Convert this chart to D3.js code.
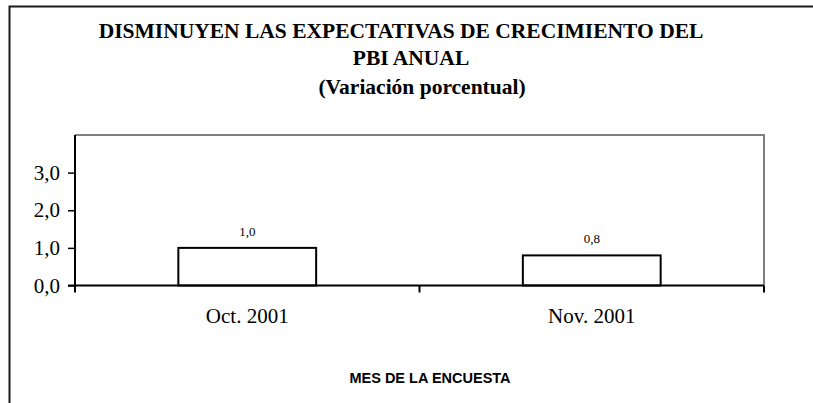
<!DOCTYPE html>
<html>
<head>
<meta charset="utf-8">
<script src="https://d3js.org/d3.v7.min.js"></script>
<style>
  body { margin: 0; background: #fff; }
  svg { display: block; }
</style>
</head>
<body>
<div id="chart"></div>
<script>
// data
var months = ["Oct. 2001", "Nov. 2001"]
var pbiVariation = [1.0, 0.8]
var yTicks = [0, 1, 2, 3]
var titleLines = ["DISMINUYEN LAS EXPECTATIVAS DE CRECIMIENTO DEL", "PBI ANUAL", "(Variación porcentual)"]
var xTitle = "MES DE LA ENCUESTA"

var W = 813, H = 403
var svg = d3.select("#chart").append("svg")
    .attr("width", W)
    .attr("height", H)

// outer frame (right and bottom edges fall outside the window)
svg.append("path")
    .attr("d", "M9.5," + H + " V6.5 H" + (W + 5))
    .attr("fill", "none")
    .attr("stroke", "#1a1a1a")
    .attr("stroke-width", 2)

var serif = "'Liberation Serif', 'Times New Roman', serif"

// title
var titleX = [401, 411, 422], titleY = [38, 65, 94]
svg.selectAll("text.title")
    .data(titleLines)
    .enter().append("text")
    .attr("class", "title")
    .attr("x", function(d, i) { return titleX[i] })
    .attr("y", function(d, i) { return titleY[i] })
    .attr("text-anchor", "middle")
    .style("font-family", serif)
    .style("font-weight", "bold")
    .style("font-size", "21.5px")
    .text(function(d) { return d })

var pLeft = 75, pRight = 764, pTop = 135, pBottom = 285.5

var x = d3.scaleBand().domain(months).range([pLeft, pRight]).paddingInner(0).paddingOuter(0)
var y = d3.scaleLinear().domain([0, 4]).range([pBottom, pTop])

// plot area border: grey top and right
svg.append("path")
    .attr("d", "M" + pLeft + "," + pTop + " H" + pRight + " V" + pBottom)
    .attr("fill", "none")
    .attr("stroke", "#808080")
    .attr("stroke-width", 2)

// bars, width = band / 2.5 (gap 150%)
var barW = x.bandwidth() / 2.5
svg.selectAll("rect.bar")
    .data(pbiVariation)
    .enter().append("rect")
    .attr("class", "bar")
    .attr("x", function(d, i) { return x(months[i]) + (x.bandwidth() - barW) / 2 })
    .attr("y", function(d) { return y(d) })
    .attr("width", barW)
    .attr("height", function(d) { return pBottom - y(d) })
    .attr("fill", "#fff")
    .attr("stroke", "#000")
    .attr("stroke-width", 2)

var fmt = function(d) { return d3.format(".1f")(d).replace(".", ",") }

// value labels
svg.selectAll("text.val")
    .data(pbiVariation)
    .enter().append("text")
    .attr("class", "val")
    .attr("x", function(d, i) { return x(months[i]) + x.bandwidth() / 2 })
    .attr("y", function(d) { return y(d) - 12 })
    .attr("text-anchor", "middle")
    .style("font-family", serif)
    .style("font-size", "13px")
    .text(fmt)

// y axis
var yAxis = svg.append("g")
    .attr("transform", "translate(" + pLeft + ",0)")
    .call(d3.axisLeft(y).tickValues(yTicks).tickSize(7).tickPadding(8).tickFormat(fmt))
yAxis.select(".domain").attr("d", "M0," + pTop + "V" + pBottom).attr("stroke", "#000").attr("stroke-width", 2)
yAxis.selectAll(".tick line").attr("stroke", "#000").attr("stroke-width", 1.5)
yAxis.selectAll(".tick text")
    .style("font-family", serif)
    .style("font-size", "21px")
    .attr("fill", "#000")

// x axis with ticks at category boundaries
var xAxis = svg.append("g")
    .attr("transform", "translate(0," + pBottom + ")")
    .call(d3.axisBottom(x).tickSize(0).tickPadding(23))
xAxis.select(".domain").attr("d", "M" + (pLeft - 7) + ",0H" + pRight).attr("stroke", "#000").attr("stroke-width", 2)
xAxis.selectAll(".tick text")
    .style("font-family", serif)
    .style("font-size", "21px")
    .attr("fill", "#000")
var bounds = months.map(function(m) { return x(m) }).concat([x(months[months.length - 1]) + x.bandwidth()])
xAxis.selectAll("line.sep")
    .data(bounds)
    .enter().append("line")
    .attr("class", "sep")
    .attr("x1", function(d) { return d }).attr("x2", function(d) { return d })
    .attr("y1", 0).attr("y2", 7)
    .attr("stroke", "#000")
    .attr("stroke-width", 2)

// x title
svg.append("text")
    .attr("x", 430)
    .attr("y", 383)
    .attr("text-anchor", "middle")
    .style("font-family", "'Liberation Sans', Arial, sans-serif")
    .style("font-weight", "bold")
    .style("font-size", "14.5px")
    .text(xTitle)
</script>
</body>
</html>
